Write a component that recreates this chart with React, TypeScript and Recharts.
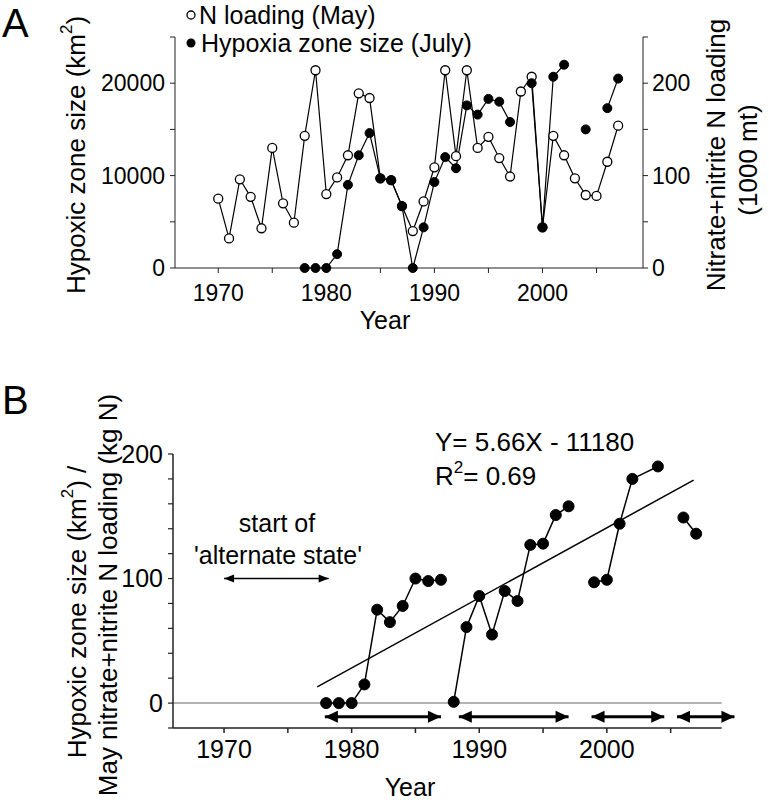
import React from "react"
import { LineChart, Line, XAxis, YAxis, ReferenceLine } from "recharts"

const FONT = '"Liberation Sans", Arial, Helvetica, sans-serif'

// ---- Panel A: N loading (May, 1000 mt) and hypoxic zone size (July, km2)
const yearsA = [
  1970, 1971, 1972, 1973, 1974, 1975, 1976, 1977, 1978, 1979,
  1980, 1981, 1982, 1983, 1984, 1985, 1986, 1987, 1988, 1989,
  1990, 1991, 1992, 1993, 1994, 1995, 1996, 1997, 1998, 1999,
  2000, 2001, 2002, 2003, 2004, 2005, 2006, 2007,
]
const nLoadingMay = [
  75, 32, 96, 77, 43, 130, 70, 49, 143, 214,
  80, 98, 122, 189, 184, 97, 95, 67, 40, 72,
  109, 214, 121, 214, 130, 142, 119, 99, 191, 207,
  44, 143, 122, 97, 79, 78, 115, 154,
]
const hypoxiaJuly = [
  null, null, null, null, null, null, null, null, 0, 0,
  0, 1500, 9000, 12200, 14600, 9700, 9500, 6700, 0, 4400,
  9300, 12000, 10800, 17600, 16600, 18300, 18000, 15800, null, 20000,
  4400, 20700, 22000, null, 15000, null, 17300, 20500,
]
const xTicksA = [1970, 1975, 1980, 1985, 1990, 1995, 2000, 2005]
const leftTicksA = [0, 5000, 10000, 15000, 20000, 25000]
const rightTicksA = [0, 50, 100, 150, 200, 250]

// ---- Panel B: hypoxic zone size / May N loading (kg N)
const ratioYears = [
  1978, 1979, 1980, 1981, 1982, 1983, 1984, 1985, 1986, 1987,
  1988, 1989, 1990, 1991, 1992, 1993, 1994, 1995, 1996, 1997,
  1999, 2000, 2001, 2002, 2004,
  2006, 2007,
]
const ratioValues = [
  0, 0, 0, 15, 75, 65, 78, 100, 98, 99,
  1, 61, 86, 55, 90, 82, 127, 128, 151, 158,
  97, 99, 144, 180, 190,
  149, 136,
]
const ratioSegment = [
  0, 0, 0, 0, 0, 0, 0, 0, 0, 0,
  1, 1, 1, 1, 1, 1, 1, 1, 1, 1,
  2, 2, 2, 2, 2,
  3, 3,
]
const trendYears = [1977.3, 2006.8]
const trendValues = [13, 179]
const stateStarts = [1977.9, 1988.4, 1998.8, 2005.5]
const stateEnds = [1987.0, 1997.0, 2004.5, 2010.0]
const stateLevel = -11
const altYears = [1970, 1978.2]
const altLevel = 100
const xTicksB = [1970, 1975, 1980, 1985, 1990, 1995, 2000, 2005]
const yTicksB = [-20, 0, 20, 40, 60, 80, 100, 120, 140, 160, 180, 200]

const rowsA = yearsA.map((year, i) => ({ year, n: nLoadingMay[i], hyp: hypoxiaJuly[i] }))

const segments = [0, 1, 2, 3].map((s) =>
  ratioYears
    .map((year, i) => ({ year, v: ratioValues[i], s: ratioSegment[i] }))
    .filter((p) => p.s === s)
)
const trendRows = trendYears.map((year, i) => ({ year, v: trendValues[i] }))
const stateArrows = stateStarts.map((a, i) => [
  { year: a, v: stateLevel },
  { year: stateEnds[i], v: stateLevel },
])
const altRows = altYears.map((year) => ({ year, v: altLevel }))

const decadeOnly = (v: number) => (v % 10 === 0 ? String(v) : "")

// arrow heads drawn as the "dots" of a two-point line
function headRenderer(len: number, half: number) {
  return (props: any) => {
    const { cx, cy, index } = props
    if (cx == null || cy == null) return <g key={`h-${index}`} />
    const d = index === 0 ? -1 : 1
    return (
      <path
        key={`h-${index}-${cx}`}
        d={`M${cx},${cy} L${cx - d * len},${cy - half} L${cx - d * len},${cy + half} Z`}
        fill="#000"
      />
    )
  }
}

function PanelA() {
  const tick = { fontSize: 23, fill: "#000", fontFamily: FONT }
  return (
    <LineChart width={769} height={340} data={rowsA} margin={{ top: 37, right: 66, bottom: 32, left: 115 }}>
      <XAxis
        dataKey="year"
        type="number"
        domain={[1966, 2009.3]}
        ticks={xTicksA}
        tickFormatter={decadeOnly}
        tick={tick}
        tickSize={5}
        tickMargin={12}
        height={40}
        stroke="#222"
        interval={0}
      />
      <YAxis
        yAxisId="left"
        domain={[0, 25000]}
        ticks={leftTicksA}
        tickFormatter={(v: number) => (v % 10000 === 0 ? String(v) : "")}
        tick={tick}
        tickSize={5}
        tickMargin={5}
        width={60}
        stroke="#222"
        interval={0}
      />
      <YAxis
        yAxisId="right"
        orientation="right"
        domain={[0, 250]}
        ticks={rightTicksA}
        tickFormatter={(v: number) => (v % 100 === 0 ? String(v) : "")}
        tick={tick}
        tickSize={5}
        tickMargin={4}
        width={60}
        stroke="#222"
        interval={0}
      />
      <Line
        yAxisId="right"
        dataKey="n"
        stroke="#000"
        strokeWidth={1.2}
        dot={{ r: 4.5, fill: "#fff", stroke: "#000", strokeWidth: 1.3 }}
        activeDot={false}
        isAnimationActive={false}
      />
      <Line
        yAxisId="left"
        dataKey="hyp"
        stroke="#000"
        strokeWidth={1.2}
        connectNulls={false}
        dot={{ r: 4.5, fill: "#000", stroke: "#000", strokeWidth: 1 }}
        activeDot={false}
        isAnimationActive={false}
      />
    </LineChart>
  )
}

function PanelB() {
  const tick = { fontSize: 25, fill: "#000", fontFamily: FONT }
  return (
    <LineChart width={769} height={423} margin={{ top: 74, right: 32, bottom: 35, left: 113 }}>
      <XAxis
        dataKey="year"
        type="number"
        domain={[1966, 2010.2]}
        ticks={xTicksB}
        tickFormatter={decadeOnly}
        tick={tick}
        tickSize={5}
        tickMargin={7}
        height={40}
        axisLine={false}
        tickLine={{ stroke: "#222", strokeWidth: 1.5 }}
        interval={0}
        allowDataOverflow
      />
      <YAxis
        domain={[-20, 200]}
        ticks={yTicksB}
        tickFormatter={(v: number) => (v >= 0 && v % 100 === 0 ? String(v) : "")}
        tick={tick}
        tickSize={5}
        tickMargin={5}
        width={60}
        axisLine={{ stroke: "#222", strokeWidth: 1.5 }}
        tickLine={{ stroke: "#222", strokeWidth: 1.2 }}
        interval={0}
      />
      <ReferenceLine
        segment={[{ x: 1966, y: 0 }, { x: 2009, y: 0 }]}
        stroke="#9a9a9a"
        strokeWidth={1.5}
        ifOverflow="visible"
      />
      <ReferenceLine
        segment={[{ x: 1966, y: -20 }, { x: 2009, y: -20 }]}
        stroke="#222"
        strokeWidth={1.5}
        ifOverflow="visible"
      />
      <Line
        data={trendRows}
        dataKey="v"
        stroke="#000"
        strokeWidth={1.5}
        dot={false}
        activeDot={false}
        isAnimationActive={false}
      />
      {segments.map((seg, i) => (
        <Line
          key={`seg-${i}`}
          data={seg}
          dataKey="v"
          stroke="#000"
          strokeWidth={1.5}
          dot={{ r: 5.5, fill: "#000", stroke: "#000", strokeWidth: 1 }}
          activeDot={false}
          isAnimationActive={false}
        />
      ))}
      {stateArrows.map((arr, i) => (
        <Line
          key={`arr-${i}`}
          data={arr}
          dataKey="v"
          stroke="#000"
          strokeWidth={3}
          dot={headRenderer(13, 6)}
          activeDot={false}
          isAnimationActive={false}
        />
      ))}
      <Line
        data={altRows}
        dataKey="v"
        stroke="#000"
        strokeWidth={1.5}
        dot={headRenderer(10, 4)}
        activeDot={false}
        isAnimationActive={false}
      />
    </LineChart>
  )
}

export default function App() {
  return (
    <div
      style={{
        position: "absolute",
        left: 0,
        top: 0,
        width: 769,
        height: 803,
        background: "#fff",
        fontFamily: FONT,
        overflow: "hidden",
      }}
    >
      <div style={{ position: "absolute", left: 0, top: 0 }}>
        <PanelA />
      </div>
      <div style={{ position: "absolute", left: 0, top: 380 }}>
        <PanelB />
      </div>
      <svg
        width={769}
        height={803}
        style={{ position: "absolute", left: 0, top: 0, pointerEvents: "none" }}
        fontFamily={FONT}
        fill="#000"
      >
        {/* panel A */}
        <text x={2} y={37} fontSize={40}>A</text>
        <circle cx={191} cy={15} r={4} fill="#fff" stroke="#000" strokeWidth={1.3} />
        <text x={199} y={15} fontSize={25} dominantBaseline="central">N loading (May)</text>
        <circle cx={191} cy={43} r={4.5} fill="#000" />
        <text x={201} y={43} fontSize={25} dominantBaseline="central">Hypoxia zone size (July)</text>
        <text
          x={76}
          y={155}
          fontSize={26}
          textAnchor="middle"
          dominantBaseline="central"
          transform="rotate(-90 76 155)"
        >
          Hypoxic zone size (km<tspan dy={-10} fontSize={17}>2</tspan><tspan dy={10}>)</tspan>
        </text>
        <text
          x={716}
          y={155}
          fontSize={26}
          textAnchor="middle"
          dominantBaseline="central"
          transform="rotate(-90 716 155)"
        >
          Nitrate+nitrite N loading
        </text>
        <text
          x={748}
          y={160}
          fontSize={26}
          textAnchor="middle"
          dominantBaseline="central"
          transform="rotate(-90 748 160)"
        >
          (1000 mt)
        </text>
        <text x={385} y={320} fontSize={25} textAnchor="middle" dominantBaseline="central">Year</text>

        {/* panel B */}
        <text x={2} y={414} fontSize={40}>B</text>
        <text
          x={77}
          y={612}
          fontSize={26}
          textAnchor="middle"
          dominantBaseline="central"
          transform="rotate(-90 77 612)"
        >
          Hypoxic zone size (km<tspan dy={-10} fontSize={17}>2</tspan><tspan dy={10}>) /</tspan>
        </text>
        <text
          x={108}
          y={595}
          fontSize={26}
          textAnchor="middle"
          dominantBaseline="central"
          transform="rotate(-90 108 595)"
        >
          May nitrate+nitrite N loading (kg N)
        </text>
        <text x={277} y={523} fontSize={25} textAnchor="middle" dominantBaseline="central">start of</text>
        <text x={278} y={555} fontSize={25} textAnchor="middle" dominantBaseline="central">'alternate state'</text>
        <text x={435} y={442} fontSize={26} dominantBaseline="central">Y= 5.66X - 11180</text>
        <text x={435} y={476} fontSize={26} dominantBaseline="central">
          R<tspan dy={-9} fontSize={17}>2</tspan><tspan dy={9}>= 0.69</tspan>
        </text>
        <text x={410} y={787} fontSize={25} textAnchor="middle" dominantBaseline="central">Year</text>
      </svg>
    </div>
  )
}
